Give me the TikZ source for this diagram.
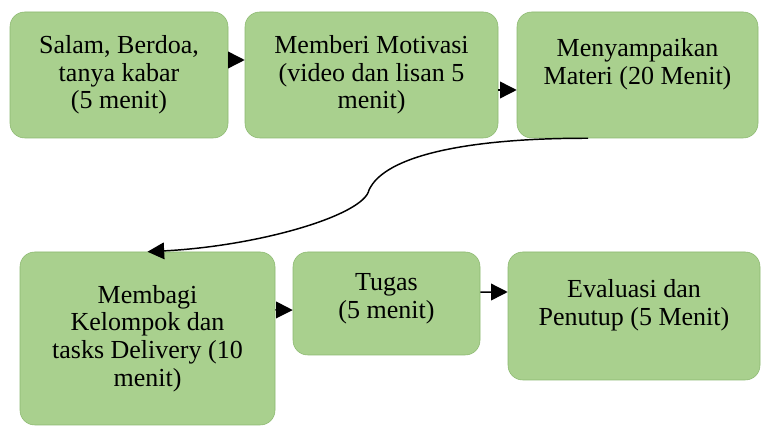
\documentclass[tikz,border=0pt]{standalone}
\usepackage{fontspec}
\setmainfont{Liberation Serif}
\newfontfamily\stagefont{Liberation Serif}
\usetikzlibrary{arrows.meta}

\definecolor{stagefill}{RGB}{169,208,142}
\definecolor{stageline}{RGB}{140,184,112}

\begin{document}
\begin{tikzpicture}[x=0.75pt, y=-0.75pt,
    stage/.style={rectangle, rounded corners=11pt, draw=stageline, fill=stagefill, align=center, inner sep=2pt, font=\stagefont\fontsize{19.5}{20.8}\selectfont},
    arrow/.style={-{Triangle[length=12.5pt,width=12.5pt]}, line width=1.1pt}
]
\useasboundingbox (0,0) rectangle (761,427);

% Row 1
\node[stage, minimum width=163.5pt, minimum height=94.5pt] (salam) at (119,75) {
    Salam, Berdoa,\\ tanya kabar\\ (5 menit)
};
\node[stage, minimum width=189.75pt, minimum height=94.5pt] (motivasi) at (371.5,75) {
    Memberi Motivasi\\ (video dan lisan 5\\ menit)
};
\node[stage, minimum width=180.75pt, minimum height=94.5pt] (materi) at (637.5,75) {
    Menyampaikan\\ Materi (20 Menit)\\[0pt]
};

% Row 2
\node[stage, minimum width=191.25pt, minimum height=129.75pt] (kelompok) at (147.5,338.5) {
    Membagi\\ Kelompok dan\\ tasks Delivery (10\\ menit)
};
\node[stage, minimum width=140.25pt, minimum height=77.25pt] (tugas) at (386.5,303.5) {
    Tugas\\ (5 menit)\\[-10pt]
};
\node[stage, minimum width=189pt, minimum height=96pt] (penutup) at (634,316) {
    Evaluasi dan\\ Penutup (5 Menit)\\[0pt]
};

% Arrows
\coordinate (bend) at (369,190);
\draw[arrow] ([yshift=11.25pt]salam.east) -- ([yshift=11.25pt]motivasi.west);
\draw[arrow] ([yshift=-11.25pt]motivasi.east) -- ([yshift=-11.25pt]materi.west);
\draw[arrow] ([xshift=-37pt]materi.south) .. controls (470,138) and (385,155) .. (bend)
    .. controls (364,215) and (260,246) .. (kelompok.north);
\draw[arrow] ([yshift=21.4pt]kelompok.east) -- ([yshift=-4.9pt]tugas.west);
\draw[arrow] ([yshift=8.6pt]tugas.east) -- ([yshift=18pt]penutup.west);

\end{tikzpicture}
\end{document}
